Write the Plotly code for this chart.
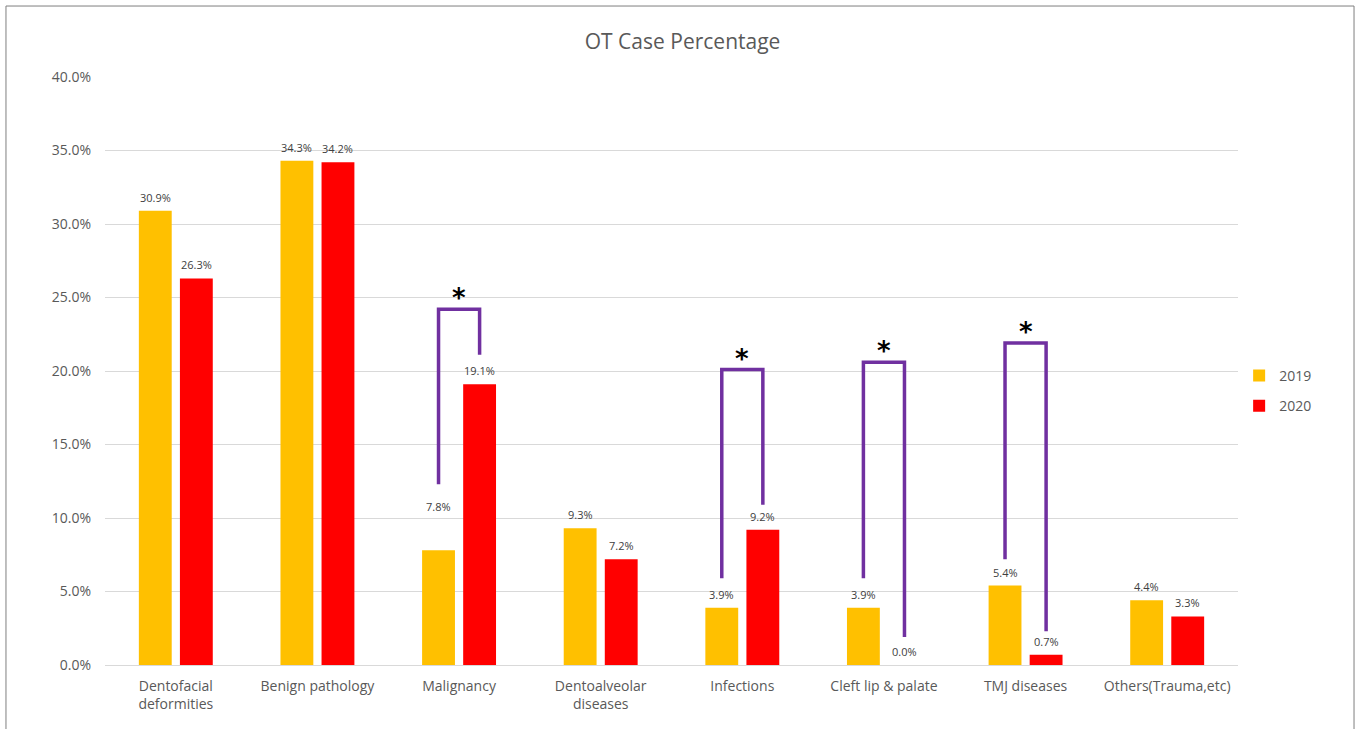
import plotly.graph_objects as go

categories = ["Dentofacial<br>deformities", "Benign pathology", "Malignancy",
              "Dentoalveolar<br>diseases", "Infections", "Cleft lip & palate",
              "TMJ diseases", "Others(Trauma,etc)"]
values_2019 = [30.9, 34.3, 7.8, 9.3, 3.9, 3.9, 5.4, 4.4]
values_2020 = [26.3, 34.2, 19.1, 7.2, 9.2, 0.0, 0.7, 3.3]
y_ticks = [0, 5, 10, 15, 20, 25, 30, 35, 40]

# significance brackets (category index, top level, left leg end, right leg end)
bracket_cats = [2, 4, 5, 6]
bracket_tops = [24.2, 20.1, 20.6, 21.9]
bracket_left_ends = [12.3, 5.9, 5.9, 7.2]
bracket_right_ends = [21.1, 10.9, 1.9, 2.3]

GOLD = "#FFC000"
RED = "#FF0000"
PURPLE = "#7030A0"
TXT = "#595959"
FONT = "Open Sans"

BARGAP = 0.42
GROUPGAP = 0.2
half = (1 - BARGAP) / 4  # bar-centre offset from category centre

x_idx = list(range(len(categories)))

fig = go.Figure()
fig.add_trace(go.Bar(name="2019", x=x_idx, y=values_2019, marker_color=GOLD,
                     marker_line_width=0, legendgroup="a"))
fig.add_trace(go.Bar(name="2020", x=x_idx, y=values_2020, marker_color=RED,
                     marker_line_width=0, legendgroup="b"))

annotations = []
label_lift = {(0, 2): 30}
for s, vals in enumerate([values_2019, values_2020]):
    for i, v in enumerate(vals):
        xo = i - half if s == 0 else i + half
        annotations.append(dict(x=xo, y=v, xref="x", yref="y", text=f"{v:.1f}%",
                                showarrow=False, yanchor="bottom",
                                yshift=4 + label_lift.get((s, i), 0),
                                font=dict(size=11, color="#404040", family=FONT)))

shapes = []
for c, top, le, re in zip(bracket_cats, bracket_tops, bracket_left_ends, bracket_right_ends):
    xl, xr = c - half, c + half
    path = f"M {xl},{le} L {xl},{top} L {xr},{top} L {xr},{re}"
    shapes.append(dict(type="path", path=path, xref="x", yref="y",
                       line=dict(color=PURPLE, width=3.5)))
    annotations.append(dict(x=c, y=top, xref="x", yref="y", text="<b>*</b>",
                            showarrow=False, yanchor="bottom", yshift=-6,
                            font=dict(size=26, color="black", family="DejaVu Sans")))

# outer frame
shapes.append(dict(type="rect", xref="paper", yref="paper",
                   x0=-0.0874, x1=1.1024, y0=-0.3, y1=1.1207,
                   line=dict(color="#7F7F7F", width=1), layer="below"))

fig.update_layout(
    width=1357, height=729,
    margin=dict(l=105, r=119, t=77, b=64),
    paper_bgcolor="white", plot_bgcolor="white",
    barmode="group", bargap=BARGAP, bargroupgap=GROUPGAP,
    title=dict(text="OT Case Percentage", x=0.503, xanchor="center", y=0.943,
               yanchor="middle", font=dict(size=21, color=TXT, family=FONT)),
    font=dict(family=FONT, color=TXT),
    legend=dict(x=1.001, xanchor="left", y=0.466, yanchor="middle",
                font=dict(size=14, color=TXT, family=FONT), tracegroupgap=9,
                itemwidth=30),
    shapes=shapes, annotations=annotations,
)
fig.update_xaxes(tickmode="array", tickvals=x_idx, ticktext=categories,
                 range=[-0.5, len(categories) - 0.5],
                 showline=True, linecolor="#D9D9D9", linewidth=1,
                 showgrid=False, ticks="", ticklabelstandoff=8,
                 tickfont=dict(size=14, color=TXT, family=FONT))
fig.update_yaxes(range=[0, 40], tickvals=y_ticks,
                 ticktext=[f"{t:.1f}%" for t in y_ticks],
                 showgrid=True, gridcolor="#D9D9D9", gridwidth=1,
                 zeroline=False, showline=False, ticks="", ticklabelstandoff=13,
                 tickfont=dict(size=14, color=TXT, family=FONT))

fig.write_html("out.html", config={"displayModeBar": False},
               post_script="document.body.style.margin='0';")
